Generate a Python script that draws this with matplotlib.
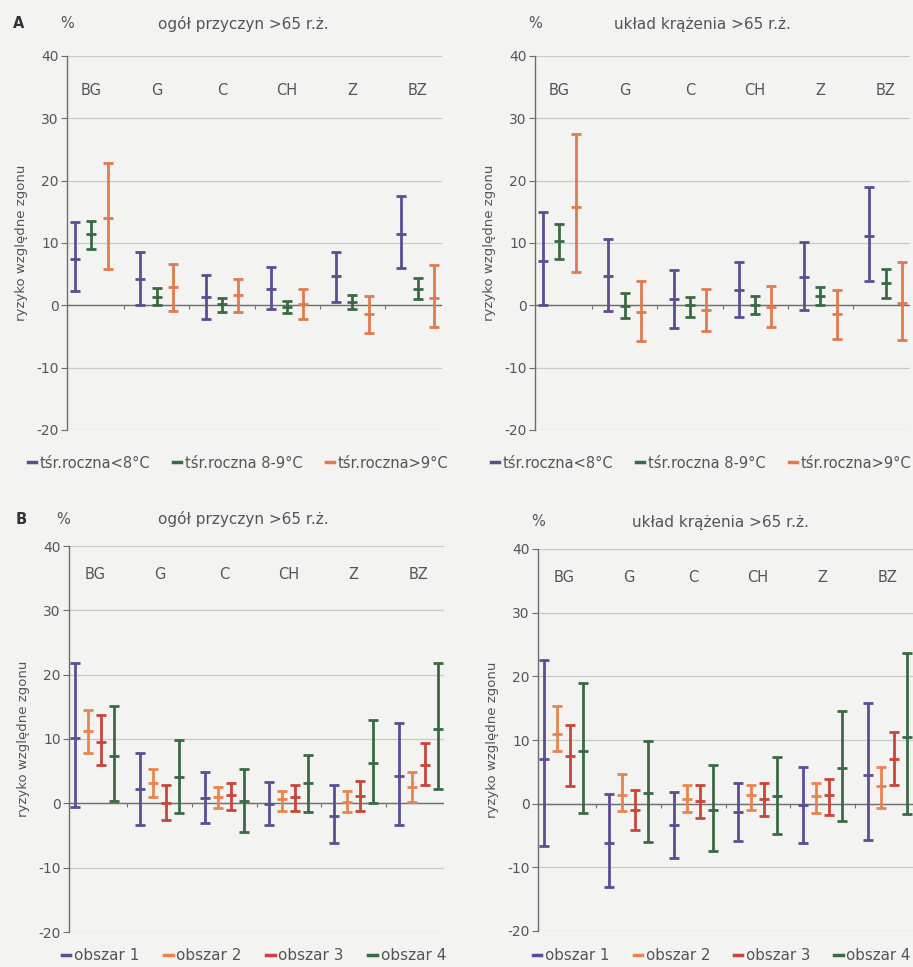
import numpy as np
import matplotlib
matplotlib.use('Agg')
import matplotlib.pyplot as plt
from matplotlib.lines import Line2D

plt.rcParams['font.family'] = ['DejaVu Sans']
plt.rcParams['axes.unicode_minus'] = False

BG_COLOR = '#f3f3f1'
TEXT_COLOR = '#555555'
GRID_COLOR = '#c9c9c7'
AXIS_COLOR = '#6e6e6e'

regions = ['BG', 'G', 'C', 'CH', 'Z', 'BZ']

# --- A: by mean annual temperature ---
temp_labels = ['tśr.roczna<8°C', 'tśr.roczna 8-9°C', 'tśr.roczna>9°C']
temp_colors = ['#5b4e93', '#3b6944', '#e07a4f']

# all causes >65
a_all_mid = [[7.5, 4.3, 1.4, 2.7, 4.7, 11.4],
             [11.4, 1.4, 0.2, -0.2, 0.5, 2.7],
             [14.0, 3.0, 1.7, 0.2, -1.45, 1.2]]
a_all_lo = [[2.3, 0.0, -2.2, -0.6, 0.6, 6.0],
            [9.1, 0.0, -1.0, -1.3, -0.6, 1.0],
            [5.8, -0.9, -1.0, -2.2, -4.5, -3.4]]
a_all_hi = [[13.3, 8.6, 4.8, 6.1, 8.6, 17.6],
            [13.5, 2.8, 1.2, 0.7, 1.7, 4.4],
            [22.8, 6.6, 4.3, 2.7, 1.55, 6.4]]

# circulatory >65
a_circ_mid = [[7.1, 4.7, 1.0, 2.5, 4.6, 11.2],
              [10.4, -0.1, 0.05, 0.0, 1.55, 3.6],
              [15.8, -1.0, -0.75, -0.2, -1.45, 0.4]]
a_circ_lo = [[0.0, -0.9, -3.7, -1.8, -0.75, 3.9],
             [7.4, -2.1, -1.8, -1.4, 0.05, 1.2],
             [5.4, -5.8, -4.1, -3.5, -5.4, -5.6]]
a_circ_hi = [[15.0, 10.6, 5.7, 6.9, 10.2, 19.0],
             [13.0, 1.9, 1.4, 1.55, 3.0, 5.9],
             [27.5, 3.9, 2.7, 3.1, 2.5, 6.9]]

# --- B: by area ---
area_labels = ['obszar 1', 'obszar 2', 'obszar 3', 'obszar 4']
area_colors = ['#5b4e93', '#e8844f', '#c8463a', '#3b6944']

b_all_mid = [[10.2, 2.2, 0.8, -0.05, -1.9, 4.2],
             [11.3, 3.1, 1.0, 0.6, 0.2, 2.5],
             [9.6, 0.05, 1.35, 1.0, 1.2, 5.9],
             [7.4, 4.1, 0.4, 3.2, 6.2, 11.6]]
b_all_lo = [[-0.6, -3.4, -3.0, -3.4, -6.2, -3.4],
            [7.9, 1.0, -0.8, -1.2, -1.3, 0.2],
            [5.9, -2.6, -1.0, -1.2, -1.2, 2.8],
            [0.4, -1.5, -4.5, -1.3, 0.1, 2.2]]
b_all_hi = [[21.8, 7.9, 4.9, 3.3, 2.8, 12.5],
            [14.5, 5.4, 2.6, 1.9, 1.9, 4.8],
            [13.7, 2.8, 3.2, 2.9, 3.4, 9.4],
            [15.1, 9.9, 5.4, 7.5, 12.9, 21.8]]

b_circ_mid = [[7.0, -6.1, -3.4, -1.3, -0.2, 4.5],
              [11.0, 1.4, 0.8, 1.4, 1.2, 2.7],
              [7.5, -1.0, 0.4, 0.8, 1.4, 7.0],
              [8.2, 1.6, -1.0, 1.2, 5.6, 10.4]]
b_circ_lo = [[-6.6, -13.1, -8.5, -5.8, -6.2, -5.7],
             [8.2, -1.2, -1.3, -1.0, -1.4, -0.7],
             [2.8, -4.2, -2.3, -1.9, -1.8, 3.0],
             [-1.4, -6.0, -7.5, -4.7, -2.7, -1.7]]
b_circ_hi = [[22.6, 1.5, 1.9, 3.2, 5.8, 15.8],
             [15.3, 4.6, 3.0, 3.0, 3.2, 5.8],
             [12.4, 2.1, 2.9, 3.2, 3.9, 11.2],
             [19.0, 9.9, 6.0, 7.4, 14.5, 23.7]]

# pixel layout: axes box, heading row y, title x, legend centre + font size, region label height
panels = [
    ([67, 56, 442, 430], a_all_mid, a_all_lo, a_all_hi, temp_colors, temp_labels,
     'ogół przyczyn >65 r.ż.', 'A', 24, 243, 238, 463, 10.5, 34.5),
    ([535, 56, 910, 430], a_circ_mid, a_circ_lo, a_circ_hi, temp_colors, temp_labels,
     'układ krążenia >65 r.ż.', None, 24, 702, 701, 463, 10.5, 34.5),
    ([69, 546, 444, 932], b_all_mid, b_all_lo, b_all_hi, area_colors, area_labels,
     'ogół przyczyn >65 r.ż.', 'B', 519, 243, 254, 956, 11, 35.5),
    ([538, 549, 913, 931], b_circ_mid, b_circ_lo, b_circ_hi, area_colors, area_labels,
     'układ krążenia >65 r.ż.', None, 522, 720, 722, 956, 10.8, 35.5),
]

W, H = 913, 967
fig = plt.figure(figsize=(W / 100, H / 100), dpi=100)
fig.patch.set_facecolor(BG_COLOR)

for (rect, mid, lo, hi, colors, labels, title, letter,
     top_y, title_x, leg_x, leg_y, leg_fs, lab_y) in panels:
    x0, y0, x1, y1 = rect
    ax = fig.add_axes([x0 / W, 1 - y1 / H, (x1 - x0) / W, (y1 - y0) / H])
    ax.set_facecolor(BG_COLOR)

    nser = len(mid)
    slot = nser + 1
    nslots = slot * len(regions) - 1
    ax.set_xlim(-0.5, nslots - 0.5)
    ax.set_ylim(-20, 40)

    for s in range(nser):
        m = np.array(mid[s])
        l = np.array(lo[s])
        h = np.array(hi[s])
        xs = np.arange(len(regions)) * slot + s
        ax.errorbar(xs, m, yerr=[m - l, h - m], fmt='_', color=colors[s],
                    ecolor=colors[s], elinewidth=2.0, capsize=3.6, capthick=2.0,
                    markersize=7.5, markeredgewidth=2.0, zorder=3)

    # region names above the groups
    for i, r in enumerate(regions):
        ax.text(i * slot + (nser - 1) / 2, lab_y, r, ha='center', va='center',
                fontsize=10.5, color=TEXT_COLOR)

    ax.set_yticks(np.arange(-20, 41, 10))
    ax.yaxis.grid(True, color=GRID_COLOR, linewidth=0.9)
    ax.set_axisbelow(True)
    ax.axhline(0, color=AXIS_COLOR, linewidth=1.0, zorder=2)
    ax.tick_params(axis='y', labelsize=10, colors=TEXT_COLOR, length=4,
                   width=0.8, color=AXIS_COLOR, pad=2)

    # small category ticks on the zero line between groups
    ax.spines['bottom'].set_position(('data', 0))
    ax.spines['bottom'].set_visible(False)
    ax.set_xticks(np.arange(1, len(regions)) * slot - 1)
    ax.tick_params(axis='x', length=3, width=0.8, color=AXIS_COLOR,
                   labelbottom=False, direction='out')
    for side in ['top', 'right']:
        ax.spines[side].set_visible(False)
    ax.spines['left'].set_color(AXIS_COLOR)
    ax.spines['left'].set_linewidth(1.0)

    ax.set_ylabel('ryzyko względne zgonu', fontsize=9.5, color=TEXT_COLOR, labelpad=6)

    # headings above the plot
    pct_x = x0 if letter != 'B' else x0 - 6
    fig.text(pct_x / W, 1 - top_y / H, '%', ha='center', va='center',
             fontsize=10.5, color=TEXT_COLOR)
    fig.text(title_x / W, 1 - top_y / H, title, ha='center',
             va='center', fontsize=11, color=TEXT_COLOR)
    if letter:
        fig.text((x0 - 48) / W, 1 - top_y / H, letter, ha='center', va='center',
                 fontsize=10.5, fontweight='bold', color='#333333')

    handles = [Line2D([], [], color=c, linewidth=2.5) for c in colors]
    fig.legend(handles, labels, loc='center', bbox_to_anchor=(leg_x / W, 1 - leg_y / H),
               ncol=len(labels), frameon=False, fontsize=leg_fs, handlelength=0.55,
               handletextpad=0.25, columnspacing=1.6, labelcolor=TEXT_COLOR,
               borderaxespad=0, borderpad=0)

fig.savefig('out.png', dpi=100, facecolor=BG_COLOR)
